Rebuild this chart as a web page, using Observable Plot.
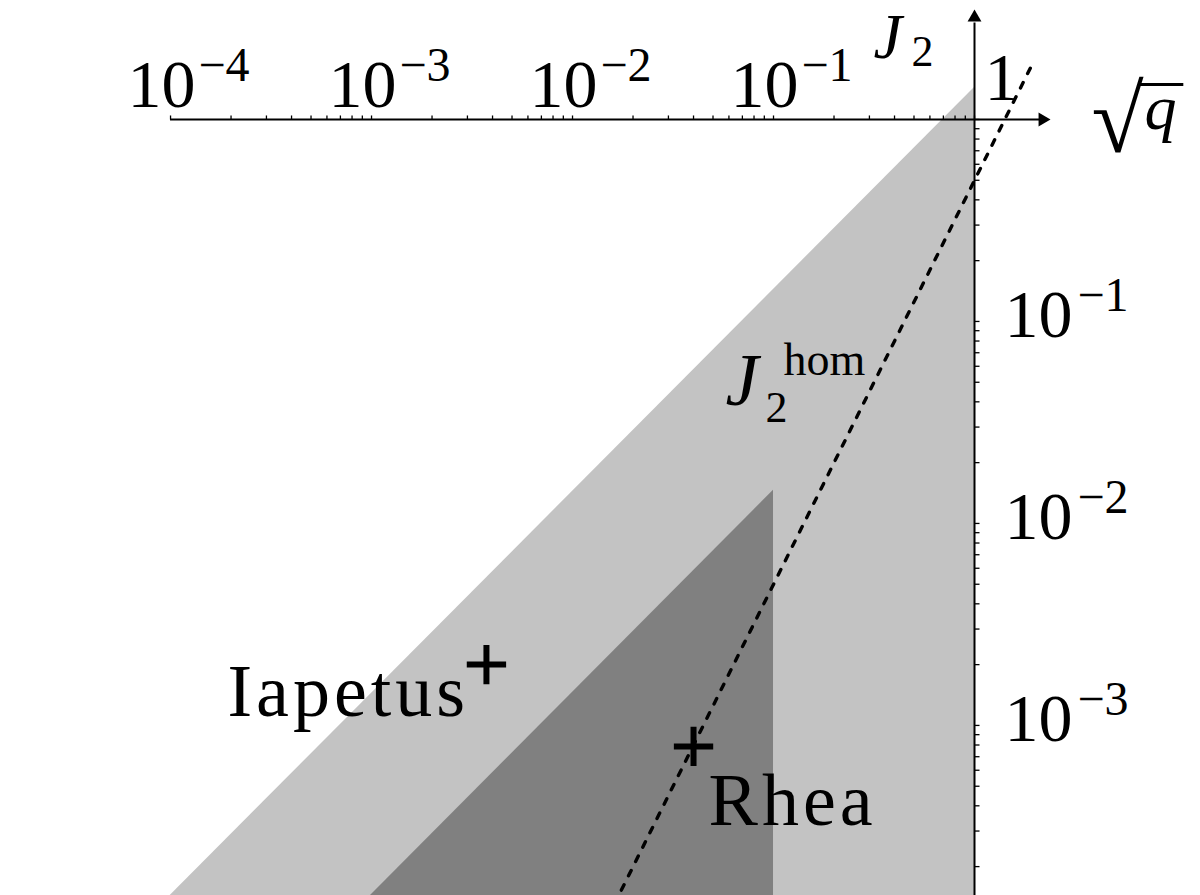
<!DOCTYPE html>
<html>
<head>
<meta charset="utf-8">
<script src="https://cdn.jsdelivr.net/npm/d3@7"></script>
<script src="https://cdn.jsdelivr.net/npm/@observablehq/plot@0.6"></script>
<style>
  body { margin: 0; background: #fff; }
  svg text { font-family: "Liberation Serif", serif; }
</style>
</head>
<body>
<script>
// ---------------- DATA ----------------
// Tick label exponents (10^e)
const xTickLabelExps = [-4, -3, -2, -1];
const yTickLabelExps = [-1, -2, -3];
// Decades and multipliers for the log ticks
const decades = [1e-4, 1e-3, 1e-2, 1e-1];
const multipliers = [1, 2, 3, 4, 5, 6, 7, 8, 9];

// Satellites (sqrt(q), J2)
const satelliteNames = ["Iapetus", "Rhea"];
const satelliteSqrtQ = [0.00373, 0.0400];
const satelliteJ2 = [0.00200, 0.000787];

// Outer (light grey) allowed region: upper boundary
const outerSqrtQ = [9e-5, 1];
const outerTopJ2 = [1.30e-4, 1.44];
// Inner (dark grey) region: upper boundary
const innerSqrtQ = [6.87e-4, 0.1];
const innerTopJ2 = [1.0e-4, 0.0146];
const regionFloorJ2 = 1e-5;

// J2^hom dotted line, end points
const homSqrtQ = [0.0175, 1.96];
const homJ2 = [1.53e-4, 1.92];

// Axis ends (arrow heads) and the bar of the square-root sign
const xAxisStart = 1e-4, xArrowCenter = 2.18, xLineEnd = 2.12;
const yArrowCenter = 3.2, yLineEnd = 3.0;
const sqrtBar = {x1: 6.6, x2: 11.0, y: 1.49};

// ---------------- BUILD ----------------
const xTicks = decades.flatMap(d => multipliers.map(m => m * d)).concat([1]);
const yTicks = decades.flatMap(d => multipliers.map(m => m * d)).filter(v => v > 1.5e-4).concat([1]);

const outerRegion = outerSqrtQ.map((x, i) => ({x, y1: regionFloorJ2, y2: outerTopJ2[i]}));
const innerRegion = innerSqrtQ.map((x, i) => ({x, y1: regionFloorJ2, y2: innerTopJ2[i]}));
const homLine = homSqrtQ.map((x, i) => ({x, y: homJ2[i]}));
const satellites = satelliteNames.map((name, i) => ({name, x: satelliteSqrtQ[i], y: satelliteJ2[i]}));

const labelOffsets = {Iapetus: [-259, 51], Rhea: [15, 79]};

const tickUp = {draw(ctx) { ctx.moveTo(0, 0); ctx.lineTo(0, -4); }};
const tickRight = {draw(ctx) { ctx.moveTo(0, 0); ctx.lineTo(5, 0); }};

const ONE = () => 1;
const F = "Liberation Serif";

const svg = Plot.plot({
  width: 1200,
  height: 895,
  margin: 0,
  style: {background: "white", fontFamily: F},
  x: {type: "log", domain: [Math.pow(10, -4.846), Math.pow(10, 1.1244)], axis: null},
  y: {type: "log", domain: [Math.pow(10, -3.842), Math.pow(10, 0.589)], axis: null},
  marks: [
    Plot.areaY(outerRegion, {x: "x", y1: "y1", y2: "y2", fill: "#c3c3c3", clip: true}),
    Plot.areaY(innerRegion, {x: "x", y1: "y1", y2: "y2", fill: "#808080", clip: true}),
    Plot.line(homLine, {x: "x", y: "y", stroke: "black", strokeWidth: 3.4, strokeDasharray: "6,10", clip: true}),
    // axes
    Plot.ruleY([1], {x1: () => xAxisStart, x2: () => xLineEnd, stroke: "black", strokeWidth: 2}),
    Plot.ruleX([1], {y1: () => 1e-5, y2: () => yLineEnd, stroke: "black", strokeWidth: 2}),
    Plot.dot([1], {x: () => xArrowCenter, y: ONE, symbol: "triangle", r: 5.14, rotate: 90, fill: "black", stroke: "none"}),
    Plot.dot([1], {x: ONE, y: () => yArrowCenter, symbol: "triangle", r: 5.14, fill: "black", stroke: "none"}),
    Plot.dot(xTicks, {x: d => d, y: ONE, symbol: tickUp, fill: "none", stroke: "black", strokeWidth: 1.3}),
    Plot.dot(yTicks, {x: ONE, y: d => d, symbol: tickRight, fill: "none", stroke: "black", strokeWidth: 1.3}),
    // x tick labels
    Plot.text(xTickLabelExps, {x: e => Math.pow(10, e), y: ONE, text: () => "10", textAnchor: "middle", lineAnchor: "bottom", dx: -9, dy: -12, fontSize: 68, fontFamily: F}),
    Plot.text(xTickLabelExps, {x: e => Math.pow(10, e), y: ONE, text: e => "\u2212" + Math.abs(e), textAnchor: "start", lineAnchor: "bottom", dx: 28, dy: -38, fontSize: 48, fontFamily: F}),
    Plot.text(["1"], {x: ONE, y: ONE, text: d => d, textAnchor: "start", lineAnchor: "bottom", dx: 10, dy: -19, fontSize: 68, fontFamily: F}),
    // y tick labels
    Plot.text(yTickLabelExps, {x: ONE, y: e => Math.pow(10, e), text: () => "10", textAnchor: "start", lineAnchor: "bottom", dx: 30, dy: 16, fontSize: 68, fontFamily: F}),
    Plot.text(yTickLabelExps, {x: ONE, y: e => Math.pow(10, e), text: e => "\u2212" + Math.abs(e), textAnchor: "start", lineAnchor: "bottom", dx: 103, dy: -10, fontSize: 48, fontFamily: F}),
    // axis titles
    Plot.text(["J"], {x: ONE, y: ONE, text: d => d, textAnchor: "start", lineAnchor: "bottom", dx: -101, dy: -61, fontSize: 64, fontStyle: "italic", fontFamily: F}),
    Plot.text(["2"], {x: ONE, y: ONE, text: d => d, textAnchor: "start", lineAnchor: "bottom", dx: -63, dy: -53, fontSize: 44, fontFamily: F}),
    Plot.text(["\u221A"], {x: ONE, y: ONE, text: d => d, textAnchor: "start", lineAnchor: "bottom", dx: 117, dy: 33, fontSize: 95, fontFamily: F}),
    Plot.ruleY([sqrtBar], {y: "y", x1: "x1", x2: "x2", stroke: "black", strokeWidth: 3}),
    Plot.text(["q"], {x: ONE, y: ONE, text: d => d, textAnchor: "start", lineAnchor: "bottom", dx: 170, dy: 10, fontSize: 64, fontStyle: "italic", fontFamily: F}),
    // J2^hom label
    Plot.text(["J"], {x: ONE, y: ONE, text: d => d, textAnchor: "start", lineAnchor: "bottom", dx: -249, dy: 286, fontSize: 74, fontStyle: "italic", fontFamily: F}),
    Plot.text(["2"], {x: ONE, y: ONE, text: d => d, textAnchor: "start", lineAnchor: "bottom", dx: -209, dy: 303, fontSize: 44, fontFamily: F}),
    Plot.text(["hom"], {x: ONE, y: ONE, text: d => d, textAnchor: "start", lineAnchor: "bottom", dx: -191, dy: 256, fontSize: 46, fontFamily: F}),
    // satellites
    Plot.dot(satellites, {x: "x", y: "y", symbol: "plus", r: 12.7, stroke: "black", strokeWidth: 6}),
    ...satellites.map(s => Plot.text([s], {x: "x", y: "y", text: "name", textAnchor: "start", lineAnchor: "bottom",
      dx: labelOffsets[s.name][0], dy: labelOffsets[s.name][1], fontSize: 74, fontFamily: F}))
  ]
});

svg.querySelectorAll("text").forEach(t => {
  if (satelliteNames.includes(t.textContent)) t.setAttribute("letter-spacing", "4");
});
document.body.appendChild(svg);
</script>
</body>
</html>
